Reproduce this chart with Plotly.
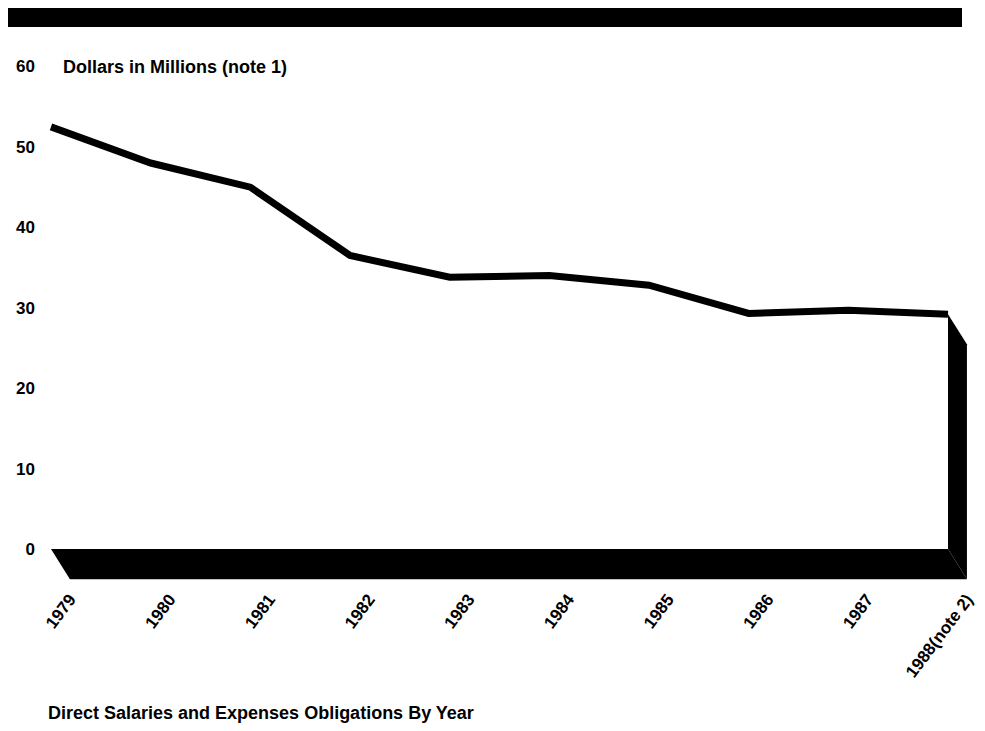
import plotly.graph_objects as go

years = [1979, 1980, 1981, 1982, 1983, 1984, 1985, 1986, 1987, 1988]
tick_labels = ["1979", "1980", "1981", "1982", "1983", "1984", "1985", "1986", "1987", "1988(note 2)"]
obligations = [52.5, 48.0, 45.0, 36.5, 33.8, 34.0, 32.8, 29.3, 29.7, 29.2]
y_ticks = [0, 10, 20, 30, 40, 50, 60]

W, H = 985, 731
OFF = 8  # page body margin
# plot area in page pixels: x 40..975, y 40..585
L, T = 40 - OFF, 40 - OFF
R = W - (975 - OFF)
B = H - (585 - OFF)
FONT = "Liberation Sans, Arial, sans-serif"

# 3D depth of the floor / side wall (style constants)
dx = 0.19   # years
dy = 3.75   # millions

x0, x1 = years[0], years[-1]
v_last = obligations[-1]

fig = go.Figure()

fig.add_trace(go.Scatter(
    x=years, y=obligations, mode="lines",
    line=dict(color="black", width=7),
    hoverinfo="skip", showlegend=False,
))

shapes = [
    # floor
    dict(type="path", xref="x", yref="y",
         path=f"M {x0},0 L {x1},0 L {x1+dx},{-dy} L {x0+dx},{-dy} Z",
         fillcolor="black", line=dict(width=0)),
    # right side wall
    dict(type="path", xref="x", yref="y",
         path=f"M {x1},{v_last} L {x1+dx},{v_last-dy} L {x1+dx},{-dy} L {x1},0 Z",
         fillcolor="black", line=dict(width=0)),
]

plot_h = H - T - B
plot_w = W - L - R
def py(pix):
    return (H - B - (pix - OFF)) / plot_h
def px(pix):
    return (pix - OFF - L) / plot_w

# top banner bar
shapes.append(dict(type="rect", xref="paper", yref="paper",
                   x0=px(8), x1=px(962), y0=py(27), y1=py(7),
                   fillcolor="black", line=dict(width=0)))

fig.update_layout(
    template="none",
    width=W, height=H,
    margin=dict(l=L, r=R, t=T, b=B),
    paper_bgcolor="white", plot_bgcolor="white",
    shapes=shapes,
    xaxis=dict(
        automargin=False,
        range=[x0 - 11/99.67, x1 + 27/99.67],
        tickvals=[y + dx for y in years], ticktext=tick_labels,
        tickangle=-53, showgrid=False, zeroline=False, showline=False,
        ticks="", tickfont=dict(family=FONT, size=17, color="black", weight="bold"),
    ),
    yaxis=dict(
        automargin=False,
        range=[-4.48, 63.3],
        tickvals=y_ticks, ticktext=[str(v) for v in y_ticks],
        showgrid=False, zeroline=False, showline=False, ticks="",
        ticklabelstandoff=4,
        tickfont=dict(family=FONT, size=17, color="black", weight="bold"),
    ),
    annotations=[
        dict(text="Dollars in Millions (note 1)", xref="paper", yref="y",
             x=px(61), y=60, xanchor="left", yanchor="middle", showarrow=False,
             font=dict(family=FONT, size=18, color="black", weight="bold")),
        dict(text="Direct Salaries and Expenses Obligations By Year",
             xref="paper", yref="paper", x=px(46), y=py(713),
             xanchor="left", yanchor="middle", showarrow=False,
             font=dict(family=FONT, size=18, color="black", weight="bold")),
    ],
)

fig.write_html("out.html")
